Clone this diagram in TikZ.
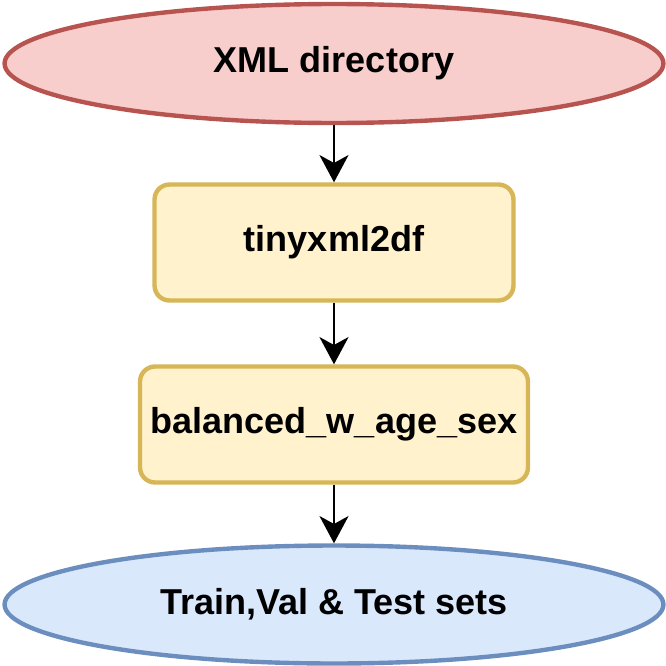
\documentclass[tikz,border=0pt]{standalone}
\usepackage{fontspec}
\setmainfont{Liberation Sans}
\usetikzlibrary{shapes.geometric,arrows.meta,positioning}
\definecolor{SrcRed}{RGB}{248,206,204}
\definecolor{SrcRedLine}{RGB}{184,84,80}
\definecolor{StepYellow}{RGB}{255,242,204}
\definecolor{StepYellowLine}{RGB}{214,182,86}
\definecolor{OutBlue}{RGB}{218,232,252}
\definecolor{OutBlueLine}{RGB}{108,142,191}
\tikzset{
  flow/.style={line width=2.5pt, inner sep=0pt, align=center,
    font=\fontsize{20.5}{24}\selectfont\bfseries},
  srcnode/.style={flow, ellipse, draw=SrcRedLine, fill=SrcRed,
    minimum width=13.18cm, minimum height=2.38cm},
  outnode/.style={flow, ellipse, draw=OutBlueLine, fill=OutBlue,
    minimum width=13.18cm, minimum height=2.36cm},
  stepbox/.style={flow, rectangle, rounded corners=0.3cm, draw=StepYellowLine, fill=StepYellow,
    minimum height=2.32cm},
  arr/.style={-{Stealth[length=15.5pt, width=16.5pt, inset=4.5pt]}, line width=1.7pt, black},
}
\begin{document}
\begin{tikzpicture}[x=0.02cm, y=-0.02cm]
  \useasboundingbox (0,0) rectangle (666,666);
  \node[srcnode] (xml) at (334,63.5) {XML directory};
  \node[stepbox, minimum width=7.18cm] (tiny) at (334,242.5) {tinyxml2df};
  \node[stepbox, minimum width=7.76cm] (bal) at (334,424.5) {balanced\_w\_age\_sex};
  \node[outnode] (sets) at (334,604.5) {Train,Val \& Test sets};
  \draw[arr] (xml.south) -- (tiny.north);
  \draw[arr] (tiny.south) -- (bal.north);
  \draw[arr] (bal.south) -- (sets.north);
\end{tikzpicture}
\end{document}
